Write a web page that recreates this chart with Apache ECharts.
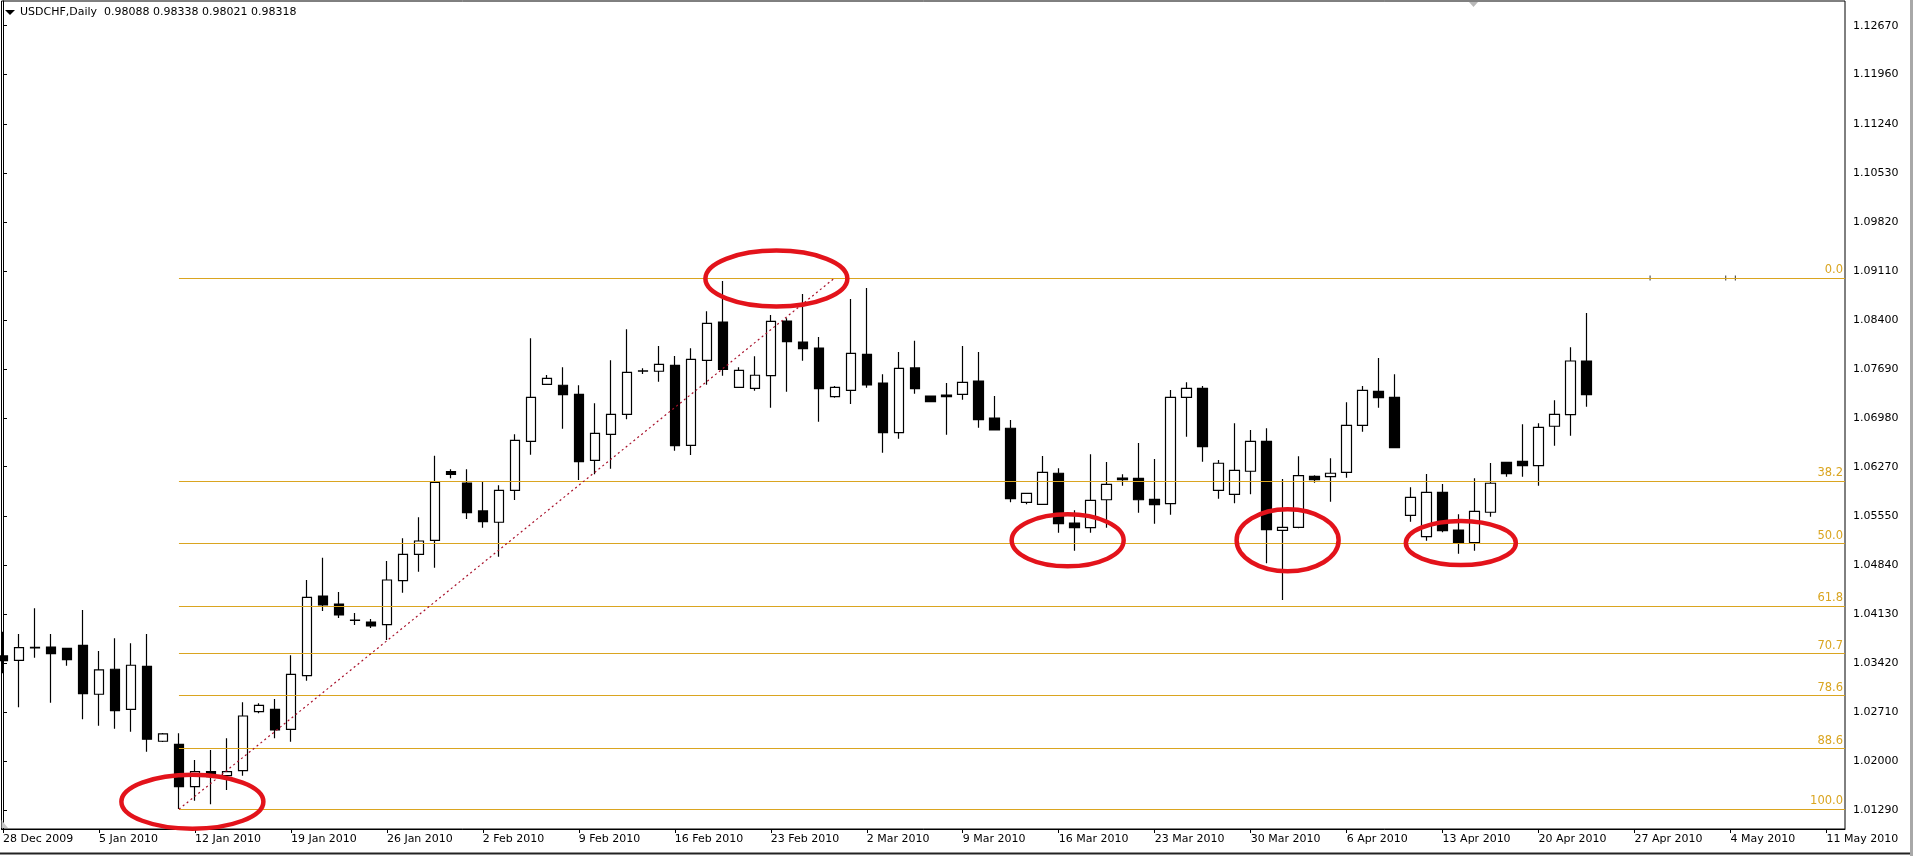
<!DOCTYPE html>
<html><head><meta charset="utf-8">
<script src="https://cdn.jsdelivr.net/npm/echarts@6/dist/echarts.min.js"></script>
<style>html,body{margin:0;padding:0;background:#fff;overflow:hidden}#c{width:1917px;height:856px}</style>
</head><body><div id="c"></div>
<script>
// ---------- data ----------
const symbolName = 'USDCHF,Daily';
const headerQuote = ['0.98088', '0.98338', '0.98021', '0.98318'];

const dates = ['28 Dec 2009','29 Dec 2009','30 Dec 2009','31 Dec 2009','3 Jan 2010','4 Jan 2010','5 Jan 2010','6 Jan 2010','7 Jan 2010','8 Jan 2010',
'10 Jan 2010','11 Jan 2010','12 Jan 2010','13 Jan 2010','14 Jan 2010','15 Jan 2010','17 Jan 2010','18 Jan 2010','19 Jan 2010','20 Jan 2010',
'21 Jan 2010','22 Jan 2010','24 Jan 2010','25 Jan 2010','26 Jan 2010','27 Jan 2010','28 Jan 2010','29 Jan 2010','31 Jan 2010','1 Feb 2010',
'2 Feb 2010','3 Feb 2010','4 Feb 2010','5 Feb 2010','7 Feb 2010','8 Feb 2010','9 Feb 2010','10 Feb 2010','11 Feb 2010','12 Feb 2010',
'14 Feb 2010','15 Feb 2010','16 Feb 2010','17 Feb 2010','18 Feb 2010','19 Feb 2010','21 Feb 2010','22 Feb 2010','23 Feb 2010','24 Feb 2010',
'25 Feb 2010','26 Feb 2010','28 Feb 2010','1 Mar 2010','2 Mar 2010','3 Mar 2010','4 Mar 2010','5 Mar 2010','7 Mar 2010','8 Mar 2010',
'9 Mar 2010','10 Mar 2010','11 Mar 2010','12 Mar 2010','14 Mar 2010','15 Mar 2010','16 Mar 2010','17 Mar 2010','18 Mar 2010','19 Mar 2010',
'21 Mar 2010','22 Mar 2010','23 Mar 2010','24 Mar 2010','25 Mar 2010','26 Mar 2010','28 Mar 2010','29 Mar 2010','30 Mar 2010','31 Mar 2010',
'1 Apr 2010','2 Apr 2010','4 Apr 2010','5 Apr 2010','6 Apr 2010','7 Apr 2010','8 Apr 2010','9 Apr 2010','11 Apr 2010','12 Apr 2010',
'13 Apr 2010','14 Apr 2010','15 Apr 2010','16 Apr 2010','18 Apr 2010','19 Apr 2010','20 Apr 2010','21 Apr 2010','22 Apr 2010','23 Apr 2010'];

const opens = [1.03524,1.03461,1.03640,1.03654,1.03635,1.03679,1.02968,1.03331,1.02750,1.03374,
1.02286,1.02242,1.01627,1.01845,1.01787,1.01859,1.02715,1.02750,1.02460,1.03238,
1.04394,1.04278,1.04046,1.04017,1.03978,1.04616,1.04999,1.05202,1.06198,1.06034,
1.05628,1.05464,1.05928,1.06639,1.07466,1.07452,1.07321,1.06363,1.06740,1.07031,
1.07655,1.07655,1.07742,1.06581,1.07814,1.08370,1.07422,1.07408,1.07591,1.08384,
1.08080,1.07993,1.07286,1.07379,1.07901,1.07485,1.06764,1.07703,1.07296,1.07311,
1.07321,1.07514,1.06977,1.06828,1.05754,1.05725,1.06175,1.05453,1.05385,1.05791,
1.06106,1.06102,1.05797,1.05734,1.07277,1.07408,1.05928,1.05870,1.06204,1.06639,
1.05347,1.05391,1.06131,1.06125,1.06189,1.06871,1.07364,1.07277,1.05565,1.05255,
1.05899,1.05352,1.05168,1.05609,1.06334,1.06349,1.06285,1.06857,1.07025,1.07804];
const highs = [1.03876,1.03843,1.04216,1.03843,1.03644,1.04191,1.03596,1.03780,1.03708,1.03843,
1.02406,1.02402,1.02015,1.02160,1.02329,1.02852,1.02837,1.02900,1.03534,1.04626,
1.04950,1.04452,1.04148,1.04061,1.04902,1.05231,1.05536,1.06430,1.06233,1.06233,
1.06063,1.06000,1.06740,1.08133,1.07601,1.07713,1.07452,1.07190,1.07814,1.08264,
1.07698,1.08022,1.07877,1.07988,1.08525,1.08965,1.07713,1.07872,1.08472,1.08424,
1.08776,1.08152,1.07441,1.08704,1.08863,1.07611,1.07935,1.08099,1.07296,1.07485,
1.08022,1.07935,1.07296,1.06948,1.05884,1.06426,1.06247,1.05638,1.06450,1.06339,
1.06160,1.06614,1.06382,1.07383,1.07495,1.07441,1.06368,1.06900,1.06803,1.06828,
1.06092,1.06421,1.06145,1.06392,1.07205,1.07441,1.07848,1.07611,1.05971,1.06164,
1.06019,1.05580,1.06102,1.06324,1.06343,1.06886,1.06900,1.07234,1.08003,1.08501];
const lows = [1.03273,1.02779,1.03499,1.02846,1.03383,1.02605,1.02512,1.02469,1.02425,1.02135,
1.02276,1.01304,1.01424,1.01372,1.01579,1.01787,1.02692,1.02329,1.02280,1.03165,
1.04177,1.04075,1.03973,1.03930,1.03756,1.04442,1.04747,1.04805,1.06102,1.05512,
1.05385,1.04964,1.05787,1.06444,1.07456,1.06822,1.06077,1.06160,1.06241,1.06958,
1.07615,1.07504,1.06503,1.06440,1.07460,1.07591,1.07412,1.07373,1.07126,1.07359,
1.07808,1.06923,1.07272,1.07180,1.07417,1.06474,1.06677,1.07330,1.07214,1.06735,
1.07243,1.06836,1.06803,1.05754,1.05725,1.05725,1.05313,1.05052,1.05313,1.05385,
1.05995,1.05603,1.05443,1.05574,1.06706,1.06343,1.05806,1.05739,1.05870,1.04869,
1.04336,1.05377,1.06038,1.05763,1.06111,1.06778,1.07126,1.06537,1.05472,1.05197,
1.05318,1.05008,1.05052,1.05545,1.06125,1.06125,1.05995,1.06575,1.06720,1.07141];
const closes = [1.03455,1.03644,1.03648,1.03557,1.03470,1.02977,1.03321,1.02730,1.03389,1.02315,
1.02392,1.01627,1.01845,1.01772,1.01845,1.02653,1.02808,1.02450,1.03258,1.04375,
1.04264,1.04119,1.04040,1.03959,1.04626,1.04999,1.05192,1.06044,1.06160,1.05603,
1.05472,1.05928,1.06653,1.07277,1.07553,1.07315,1.06343,1.06755,1.07031,1.07640,
1.07662,1.07756,1.06575,1.07829,1.08351,1.07684,1.07669,1.07597,1.08380,1.08084,
1.07983,1.07402,1.07422,1.07916,1.07456,1.06764,1.07698,1.07402,1.07214,1.07286,
1.07495,1.06952,1.06803,1.05806,1.05884,1.06189,1.05443,1.05385,1.05783,1.06015,
1.06082,1.05791,1.05719,1.07277,1.07408,1.06561,1.06320,1.06218,1.06639,1.05356,
1.05391,1.06140,1.06082,1.06175,1.06871,1.07379,1.07272,1.06546,1.05826,1.05899,
1.05342,1.05168,1.05623,1.06030,1.06169,1.06285,1.06842,1.07031,1.07804,1.07315];

const xTickIndex  = [0,6,12,18,24,30,36,42,48,54,60,66,72,78,84,90,96,102,108,114];
const xTickLabels = ['28 Dec 2009','5 Jan 2010','12 Jan 2010','19 Jan 2010','26 Jan 2010','2 Feb 2010','9 Feb 2010',
  '16 Feb 2010','23 Feb 2010','2 Mar 2010','9 Mar 2010','16 Mar 2010','23 Mar 2010','30 Mar 2010','6 Apr 2010',
  '13 Apr 2010','20 Apr 2010','27 Apr 2010','4 May 2010','11 May 2010'];
const yTickValues = [1.01290,1.02000,1.02710,1.03420,1.04130,1.04840,1.05550,1.06270,1.06980,1.07690,
  1.08400,1.09110,1.09820,1.10530,1.11240,1.11960,1.12670];

// Fibonacci retracement object: anchor bars and prices (100% end, 0% end)
const fibAnchorBars = [11, 52];
const fibAnchorPrices = [1.01300, 1.09010];
const fibLevels = [0, 38.2, 50, 61.8, 70.7, 78.6, 88.6, 100];

// red hand-drawn ellipses: centre bar index and price
const ellipseBars   = [11.84, 48.35, 66.56, 80.31, 91.14];
const ellipsePrices = [1.01410, 1.09000, 1.05202, 1.05202, 1.05163];

// tiny object marks sitting on the 0.0 level
const objectMarkBars = [102.97, 107.7, 108.3];

// ---------- chart ----------
const FONT = 'DejaVu Sans';
const X_MIN = -0.09375, X_MAX = 115.15625;
const Y_MIN = 1.01013, Y_MAX = 1.13028;

const candles = opens.map((o, i) => [i, o, closes[i], lows[i], highs[i]]);
const fibHigh = fibAnchorPrices[1], fibLow = fibAnchorPrices[0];
const fibMarks = fibLevels.map(lv => {
  const p = fibHigh - (fibHigh - fibLow) * lv / 100;
  return [
    { coord: [fibAnchorBars[0], p], label: { formatter: lv.toFixed(1) } },
    { coord: [X_MAX, p] }
  ];
});
const trendMark = [
  { coord: [fibAnchorBars[0], fibLow], lineStyle: { color: '#a8102a', type: [2, 3], width: 1.2 }, label: { show: false } },
  { coord: [fibAnchorBars[1], fibHigh] }
];

const chart = echarts.init(document.getElementById('c'), null, { renderer: 'canvas' });
chart.setOption({
  animation: false,
  backgroundColor: '#ffffff',
  textStyle: { fontFamily: FONT },
  grid: { left: 1, right: 72, top: 1, bottom: 27, show: true, borderColor: '#000', borderWidth: 1, backgroundColor: 'transparent' },
  xAxis: {
    type: 'value', min: X_MIN, max: X_MAX,
    splitLine: { show: false },
    axisLine: { show: true, lineStyle: { color: '#000' } },
    axisTick: { show: true, customValues: xTickIndex, length: 4, lineStyle: { color: '#000' } },
    axisLabel: {
      customValues: xTickIndex, color: '#000', fontFamily: FONT, fontSize: 11, align: 'left', margin: 5,
      formatter: v => { const k = xTickIndex.indexOf(Math.round(v)); return k >= 0 ? xTickLabels[k] : ''; }
    }
  },
  yAxis: {
    type: 'value', position: 'right', min: Y_MIN, max: Y_MAX, scale: true,
    splitLine: { show: false },
    axisLine: { show: true, lineStyle: { color: '#000' } },
    axisTick: { show: true, customValues: yTickValues, length: 4, lineStyle: { color: '#000' } },
    axisLabel: { customValues: yTickValues, color: '#000', fontFamily: FONT, fontSize: 11, margin: 8, formatter: v => v.toFixed(5) }
  },
  series: [
    {
      type: 'candlestick',
      data: candles,
      encode: { x: 0, y: [1, 2, 3, 4] },
      barWidth: 10,
      itemStyle: { color: '#ffffff', color0: '#000000', borderColor: '#000000', borderColor0: '#000000', borderWidth: 1.2 },
      markLine: {
        silent: true, symbol: ['none', 'none'], animation: false,
        lineStyle: { color: '#DAA520', width: 1.2, type: 'solid' },
        label: { show: true, position: 'insideEndTop', color: '#DAA520', fontFamily: FONT, fontSize: 11.5, distance: 2 },
        data: fibMarks.concat([trendMark])
      }
    },
    {
      type: 'scatter', symbol: 'rect', symbolSize: [1, 5], silent: true,
      itemStyle: { color: '#000' },
      data: objectMarkBars.map(b => [b, fibHigh])
    }
  ]
});

// annotations and MT4 chrome
const ellipseSizes = [[71, 27], [71, 28], [56, 26], [51, 31], [55, 22]];
const graphics = ellipseBars.map((b, i) => {
  const pt = chart.convertToPixel({ gridIndex: 0 }, [b, ellipsePrices[i]]);
  return { type: 'ellipse', shape: { cx: pt[0], cy: pt[1], rx: ellipseSizes[i][0], ry: ellipseSizes[i][1] },
    style: { fill: 'none', stroke: '#e3131b', lineWidth: 4.5 }, z: 100 };
});
graphics.push(
  { type: 'polygon', shape: { points: [[5, 10], [15, 10], [10, 15]] }, style: { fill: '#000' }, z: 100 },
  { type: 'text', x: 20, y: 12.5, style: { text: symbolName + '  ' + headerQuote.join(' '), font: '11px "DejaVu Sans"', fill: '#000', textVerticalAlign: 'middle' }, z: 100 },
  { type: 'polygon', shape: { points: [[1469, 2], [1478, 2], [1473.5, 7]] }, style: { fill: '#b8b8b8' }, z: 100 },
  { type: 'polygon', shape: { points: [[1.5, 820], [1.5, 828], [8, 828]] }, style: { fill: '#c8c8c8' }, z: 100 },
  { type: 'line', shape: { x1: 1911.5, y1: 0, x2: 1911.5, y2: 856 }, style: { stroke: '#a8a8a8', lineWidth: 3 }, z: 100 },
  { type: 'line', shape: { x1: 0, y1: 853.5, x2: 1910, y2: 853.5 }, style: { stroke: '#222', lineWidth: 2 }, z: 100 }
);
chart.setOption({ graphic: graphics });
</script></body></html>
